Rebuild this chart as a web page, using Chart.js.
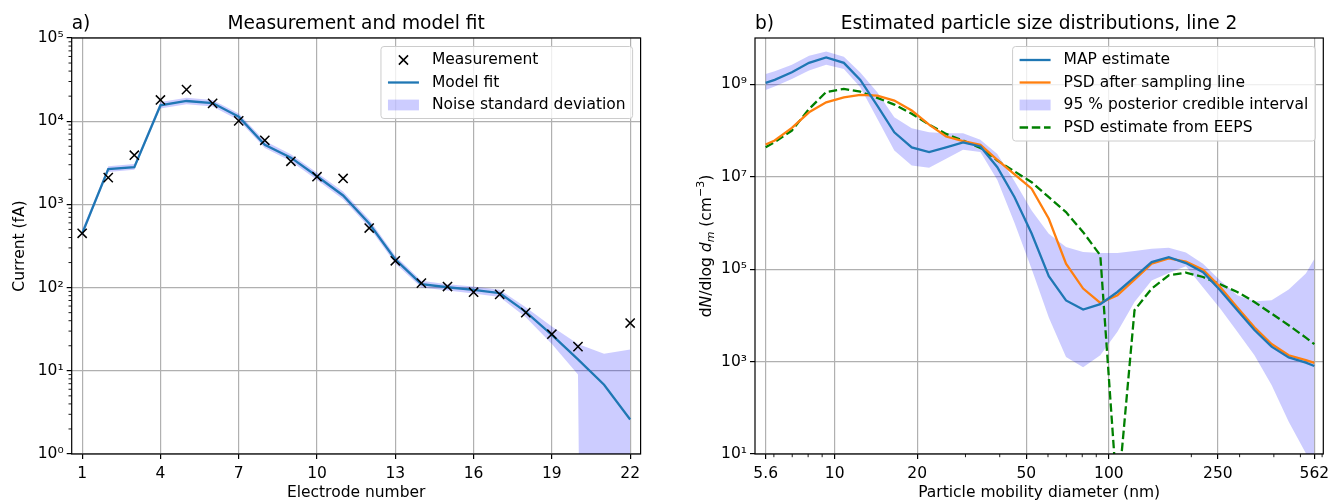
<!DOCTYPE html>
<html>
<head>
<meta charset="utf-8">
<script src="https://cdn.jsdelivr.net/npm/chart.js@4"></script>
<style>
  body { margin: 0; background: #fff; }
  .panel { position: absolute; top: 0; width: 664px; height: 502px; }
</style>
</head>
<body>
<div class="panel" style="left:0"><canvas id="fitChart" width="664" height="502"></canvas></div>
<div class="panel" style="left:664px"><canvas id="psdChart" width="664" height="502"></canvas></div>
<script>
// ---- panel a: electrometer currents ----
const electrodes = [1, 2, 3, 4, 5, 6, 7, 8, 9, 10, 11, 12, 13, 14, 15, 16, 17, 18, 19, 20, 21, 22];
const measured   = [450, 2100, 3900, 18000, 24000, 16400, 10100, 5900, 3300, 2150, 2050, 520,
                    210, 113, 103, 88, 83, 50, 27.5, 19.5, null, 37.5];
const modelFit   = [445, 2650, 2800, 15500, 17500, 16500, 11300, 5200, 3650, 2180, 1280, 590,
                    218, 110, 101, 94, 86, 51, 27, 13.7, 6.8, 2.6];
const noiseUpper = [495, 2870, 3050, 17000, 19200, 18000, 12400, 5800, 4000, 2400, 1430, 660,
                    242, 121, 110, 103, 94, 58, 34, 21, 16, 18];
// lower bound is non-positive at the last two electrodes; kept just above zero for the log axis
const noiseLower = [405, 2450, 2600, 14200, 16000, 15000, 10300, 4750, 3300, 1960, 1150, 530,
                    195, 100, 92, 85, 77, 44, 21, 9, 1e-30, 1e-30];
const electrodeTicks = [1, 4, 7, 10, 13, 16, 19, 22];
const currentTicks = [1, 10, 100, 1000, 10000, 100000];

// ---- panel b: size distributions (EEPS channel midpoints plus range ends) ----
const diameters = [5.6, 6.04, 6.98, 8.06, 9.31, 10.8, 12.4, 14.3, 16.5, 19.1, 22.1, 25.5, 29.4, 34.0,
                   39.2, 45.3, 52.3, 60.4, 69.8, 80.6, 93.1, 107.5, 124.1, 143.3, 165.5, 191.1, 220.7,
                   254.8, 294.3, 339.8, 392.4, 453.2, 523.3, 562];
const mapEstimate = [1.07e9, 1.24e9, 1.81e9, 2.9e9, 3.8e9, 2.9e9, 1.24e9, 3.45e8, 9.1e7, 4.3e7, 3.4e7,
                     4.3e7, 5.5e7, 4.5e7, 1.6e7, 3.6e6, 5.9e5, 7e4, 2.1e4, 1.33e4, 1.74e4, 3.2e4, 6.7e4,
                     1.42e5, 1.82e5, 1.35e5, 8.6e4, 3.5e4, 1.29e4, 4.8e3, 2.1e3, 1.23e3, 950, 800];
const psdSampled = [4.95e7, 6.05e7, 1.14e8, 2.47e8, 4.06e8, 5.2e8, 5.87e8, 5.67e8, 4.43e8, 2.7e8, 1.34e8,
                    7.4e7, 5.85e7, 4.89e7, 2.32e7, 1.12e7, 5.5e6, 1.23e6, 1.31e5, 3.8e4, 1.85e4, 2.72e4,
                    5.9e4, 1.31e5, 1.7e5, 1.45e5, 9.7e4, 4.1e4, 1.47e4, 5.5e3, 2.4e3, 1.37e3, 1.07e3, 940];
const eepsEstimate = [4.33e7, 5.56e7, 9.96e7, 2.9e8, 6.8e8, 7.9e8, 6.9e8, 5.06e8, 3.63e8, 2.3e8, 1.34e8,
                      8.4e7, 6.05e7, 4.2e7, 2.24e7, 1.3e7, 7.6e6, 3.6e6, 1.71e6, 6.3e5, 1.99e5, 1.0,
                      1.29e4, 3.79e4, 7.35e4, 8.4e4, 6.75e4, 4.7e4, 3.2e4, 1.95e4, 1.09e4, 6.1e3, 3.3e3, 2.38e3];
const credUpper = [1.67e9, 1.9e9, 2.65e9, 4.15e9, 5.1e9, 3.95e9, 1.8e9, 6.7e8, 1.93e8, 1.12e8, 9.1e7,
                   8.7e7, 8.7e7, 6.3e7, 3.1e7, 8e6, 1.86e6, 5.8e5, 3e5, 2.34e5, 2.23e5, 2.23e5, 2.46e5,
                   2.77e5, 2.91e5, 2.3e5, 1.31e5, 5.7e4, 2.72e4, 2.02e4, 2.12e4, 3.6e4, 8e4, 1.65e5];
const credLower = [7.5e8, 8.9e8, 1.3e9, 1.97e9, 2.65e9, 2.14e9, 8.6e8, 1.78e8, 3.7e7, 1.75e7, 1.56e7,
                   2.44e7, 3.8e7, 3.4e7, 8.5e6, 1e6, 1e5, 9e3, 1.26e3, 750, 1.37e3, 4.4e3, 1.95e4,
                   5.7e4, 8.2e4, 1.15e5, 4e4, 1.4e4, 4.4e3, 1.37e3, 310, 50, 10.4, 0.5];
const diameterTicks = [5.6, 10, 20, 50, 100, 250, 562];
const densityTicks = [10, 1e3, 1e5, 1e7, 1e9];

const FONT = "'DejaVu Sans', sans-serif";
const FS = 15.5;
Chart.defaults.font.family = FONT;
Chart.defaults.font.size = FS;
Chart.defaults.color = '#000';

const SUP = { '0': '⁰', '1': '¹', '2': '²', '3': '³', '4': '⁴', '5': '⁵', '6': '⁶', '7': '⁷', '8': '⁸', '9': '⁹', '-': '⁻' };
function powerLabel(v) {
  const e = Math.round(Math.log10(v));
  return '10' + String(e).split('').map(c => SUP[c]).join('');
}

// log-axis minor ticks: 2..9 times each decade inside [lo, hi]
function minorLog(lo, hi) {
  const out = [];
  for (let d = Math.floor(Math.log10(lo)); d <= Math.ceil(Math.log10(hi)); d++) {
    for (let m = 2; m <= 9; m++) {
      const v = m * Math.pow(10, d);
      if (v > lo && v < hi) out.push(v);
    }
  }
  return out;
}

const pts = (xs, ys) => xs.map((x, i) => ({ x: x, y: ys[i] }));

// frame, minor ticks, titles and an in-axes legend drawn on top of the datasets
const decor = {
  id: 'decor',
  afterDatasetsDraw(chart, args, o) {
    const { ctx, chartArea: a } = chart;
    const sx = chart.scales.x, sy = chart.scales.y;
    ctx.save();

    ctx.strokeStyle = '#000';
    ctx.lineWidth = 0.9;
    ctx.beginPath();
    (o.minorX || []).forEach(v => {
      const px = sx.getPixelForValue(v);
      ctx.moveTo(px, a.bottom); ctx.lineTo(px, a.bottom + 3.2);
    });
    (o.minorY || []).forEach(v => {
      const py = sy.getPixelForValue(v);
      ctx.moveTo(a.left, py); ctx.lineTo(a.left - 3.2, py);
    });
    ctx.stroke();

    ctx.lineWidth = 1.2;
    ctx.strokeRect(a.left, a.top, a.right - a.left, a.bottom - a.top);

    // titles
    ctx.fillStyle = '#000';
    ctx.font = `18.6px ${FONT}`;
    ctx.textBaseline = 'alphabetic';
    ctx.textAlign = 'left';
    ctx.fillText(o.tag, a.left, 29);
    ctx.textAlign = 'center';
    ctx.fillText(o.title, (a.left + a.right) / 2, 29);

    // rotated y title made of mixed-style pieces
    if (o.yParts) {
      const fontOf = p => `${p.italic ? 'italic ' : ''}${p.sub || p.sup ? 11 : FS}px ${FONT}`;
      let total = 0;
      o.yParts.forEach(p => { ctx.font = fontOf(p); total += ctx.measureText(p.t).width; });
      ctx.save();
      ctx.translate(a.left - o.yTitleGap, (a.top + a.bottom) / 2);
      ctx.rotate(-Math.PI / 2);
      ctx.textAlign = 'left';
      let x = -total / 2;
      o.yParts.forEach(p => {
        ctx.font = fontOf(p);
        const dy = p.sub ? 3.5 : p.sup ? -6.5 : 0;
        ctx.fillText(p.t, x, 5.5 + dy);
        x += ctx.measureText(p.t).width;
      });
      ctx.restore();
    }

    // legend
    const items = o.legendOrder.map(i => chart.data.datasets[i]);
    ctx.font = `${FS}px ${FONT}`;
    const textW = Math.max(...items.map(d => ctx.measureText(d.label).width));
    const boxW = 7 + 31 + 13 + textW + 7;
    const boxH = 27 + 22.5 * (items.length - 1);
    const bx = a.right - 8 - boxW, by = a.top + 8.5;
    ctx.beginPath();
    ctx.roundRect(bx, by, boxW, boxH, 3);
    ctx.fillStyle = 'rgba(255,255,255,0.8)';
    ctx.fill();
    ctx.strokeStyle = '#cccccc';
    ctx.lineWidth = 1;
    ctx.stroke();
    items.forEach((d, i) => {
      const cy = by + 13.5 + i * 22.5;
      const x0 = bx + 7, x1 = x0 + 31;
      if (d.showLine === false) {
        const cx = (x0 + x1) / 2, h = 4.6;
        ctx.strokeStyle = d.pointBorderColor;
        ctx.lineWidth = d.pointBorderWidth;
        ctx.setLineDash([]);
        ctx.beginPath();
        ctx.moveTo(cx - h, cy - h); ctx.lineTo(cx + h, cy + h);
        ctx.moveTo(cx - h, cy + h); ctx.lineTo(cx + h, cy - h);
        ctx.stroke();
      } else if (d.fill) {
        ctx.fillStyle = d.backgroundColor;
        ctx.fillRect(x0, cy - 5.4, 31, 10.8);
      } else {
        ctx.strokeStyle = d.borderColor;
        ctx.lineWidth = d.borderWidth;
        ctx.setLineDash(d.borderDash || []);
        ctx.beginPath();
        ctx.moveTo(x0, cy); ctx.lineTo(x1, cy);
        ctx.stroke();
        ctx.setLineDash([]);
      }
      ctx.fillStyle = '#000';
      ctx.textAlign = 'left';
      ctx.textBaseline = 'middle';
      ctx.fillText(d.label, x1 + 13, cy);
    });
    ctx.restore();
  }
};

const gridStyle = { color: '#b0b0b0', lineWidth: 1.2, tickColor: '#000', tickLength: 5, tickWidth: 1.2 };
const tickStyle = { color: '#000', padding: 3, maxRotation: 0, minRotation: 0, autoSkip: false, font: { size: FS } };
const xTickStyle = Object.assign({}, tickStyle, { padding: 6 });

function fixTicks(values) {
  return s => { s.ticks = values.map(v => ({ value: v })); };
}

new Chart(document.getElementById('fitChart'), {
  type: 'line',
  data: {
    datasets: [
      { label: 'Measurement', data: pts(electrodes, measured), showLine: false,
        pointStyle: 'crossRot', pointRadius: 6.5, pointBorderColor: '#000', pointBorderWidth: 1.5,
        borderColor: '#000', backgroundColor: '#000' },
      { label: 'Model fit', data: pts(electrodes, modelFit), borderColor: '#1f77b4', borderWidth: 2.3,
        pointRadius: 0, fill: false },
      { label: 'Noise standard deviation', data: pts(electrodes, noiseUpper), borderColor: 'rgba(0,0,0,0)',
        borderWidth: 0, pointRadius: 0, backgroundColor: 'rgba(0,0,255,0.2)', fill: '+1' },
      { label: '', data: pts(electrodes, noiseLower), borderColor: 'rgba(0,0,0,0)', borderWidth: 0,
        pointRadius: 0, fill: false }
    ]
  },
  options: {
    responsive: false,
    animation: false,
    layout: { padding: { left: 0, right: 23.4, top: 38, bottom: 0 } },
    plugins: {
      legend: { display: false },
      tooltip: { enabled: false },
      decor: {
        tag: 'a)', title: 'Measurement and model fit',
        minorY: minorLog(1, 1e5), legendOrder: [0, 1, 2]
      }
    },
    scales: {
      x: {
        type: 'linear', min: 0.6, max: 22.4,
        afterBuildTicks: fixTicks(electrodeTicks),
        afterFit: s => { s.height = 48; s.paddingLeft = 0; s.paddingRight = 0; },
        ticks: xTickStyle, grid: gridStyle, border: { display: false },
        title: { display: true, text: 'Electrode number', color: '#000', font: { size: FS }, padding: { top: 0, bottom: 0 } }
      },
      y: {
        type: 'logarithmic', min: 1, max: 1e5,
        afterBuildTicks: fixTicks(currentTicks),
        afterFit: s => { s.width = 71.7; s.paddingTop = 0; s.paddingBottom = 0; },
        ticks: Object.assign({}, tickStyle, { callback: v => powerLabel(v) }),
        grid: gridStyle, border: { display: false },
        title: { display: true, text: 'Current (fA)', color: '#000', font: { size: FS }, padding: { top: 11, bottom: 0 } }
      }
    }
  },
  plugins: [decor]
});

new Chart(document.getElementById('psdChart'), {
  type: 'line',
  data: {
    datasets: [
      { label: 'MAP estimate', data: pts(diameters, mapEstimate), borderColor: '#1f77b4', borderWidth: 2.3,
        pointRadius: 0, fill: false },
      { label: 'PSD after sampling line', data: pts(diameters, psdSampled), borderColor: '#ff7f0e', borderWidth: 2.3,
        pointRadius: 0, fill: false },
      { label: 'PSD estimate from EEPS', data: pts(diameters, eepsEstimate), borderColor: '#008000', borderWidth: 2.3,
        borderDash: [8.5, 3.7], pointRadius: 0, fill: false },
      { label: '95 % posterior credible interval', data: pts(diameters, credUpper), borderColor: 'rgba(0,0,0,0)',
        borderWidth: 0, pointRadius: 0, backgroundColor: 'rgba(0,0,255,0.2)', fill: '+1' },
      { label: '', data: pts(diameters, credLower), borderColor: 'rgba(0,0,0,0)', borderWidth: 0,
        pointRadius: 0, fill: false }
    ]
  },
  options: {
    responsive: false,
    animation: false,
    layout: { padding: { left: 0, right: 4.7, top: 38, bottom: 0 } },
    plugins: {
      legend: { display: false },
      tooltip: { enabled: false },
      decor: {
        tag: 'b)', title: 'Estimated particle size distributions, line 2',
        minorX: minorLog(5.12, 606).filter(v => !diameterTicks.includes(v)),
        legendOrder: [0, 1, 3, 2],
        yTitleGap: 50,
        yParts: [
          { t: 'd' }, { t: 'N', italic: true }, { t: '/dlog ' }, { t: 'd', italic: true },
          { t: 'm', italic: true, sub: true }, { t: ' (cm' }, { t: '−3', sup: true }, { t: ')' }
        ]
      }
    },
    scales: {
      x: {
        type: 'logarithmic', min: 5.12, max: 606,
        afterBuildTicks: fixTicks(diameterTicks),
        afterFit: s => { s.height = 48; s.paddingLeft = 0; s.paddingRight = 0; },
        ticks: Object.assign({}, xTickStyle, { callback: v => String(v) }),
        grid: gridStyle, border: { display: false },
        title: { display: true, text: 'Particle mobility diameter (nm)', color: '#000', font: { size: FS }, padding: { top: 0, bottom: 0 } }
      },
      y: {
        type: 'logarithmic', min: 10, max: 1e10,
        afterBuildTicks: fixTicks(densityTicks),
        afterFit: s => { s.width = 91; s.paddingTop = 0; s.paddingBottom = 0; },
        ticks: Object.assign({}, tickStyle, { callback: v => powerLabel(v) }),
        grid: gridStyle, border: { display: false },
        title: { display: false }
      }
    }
  },
  plugins: [decor]
});
</script>
</body>
</html>
